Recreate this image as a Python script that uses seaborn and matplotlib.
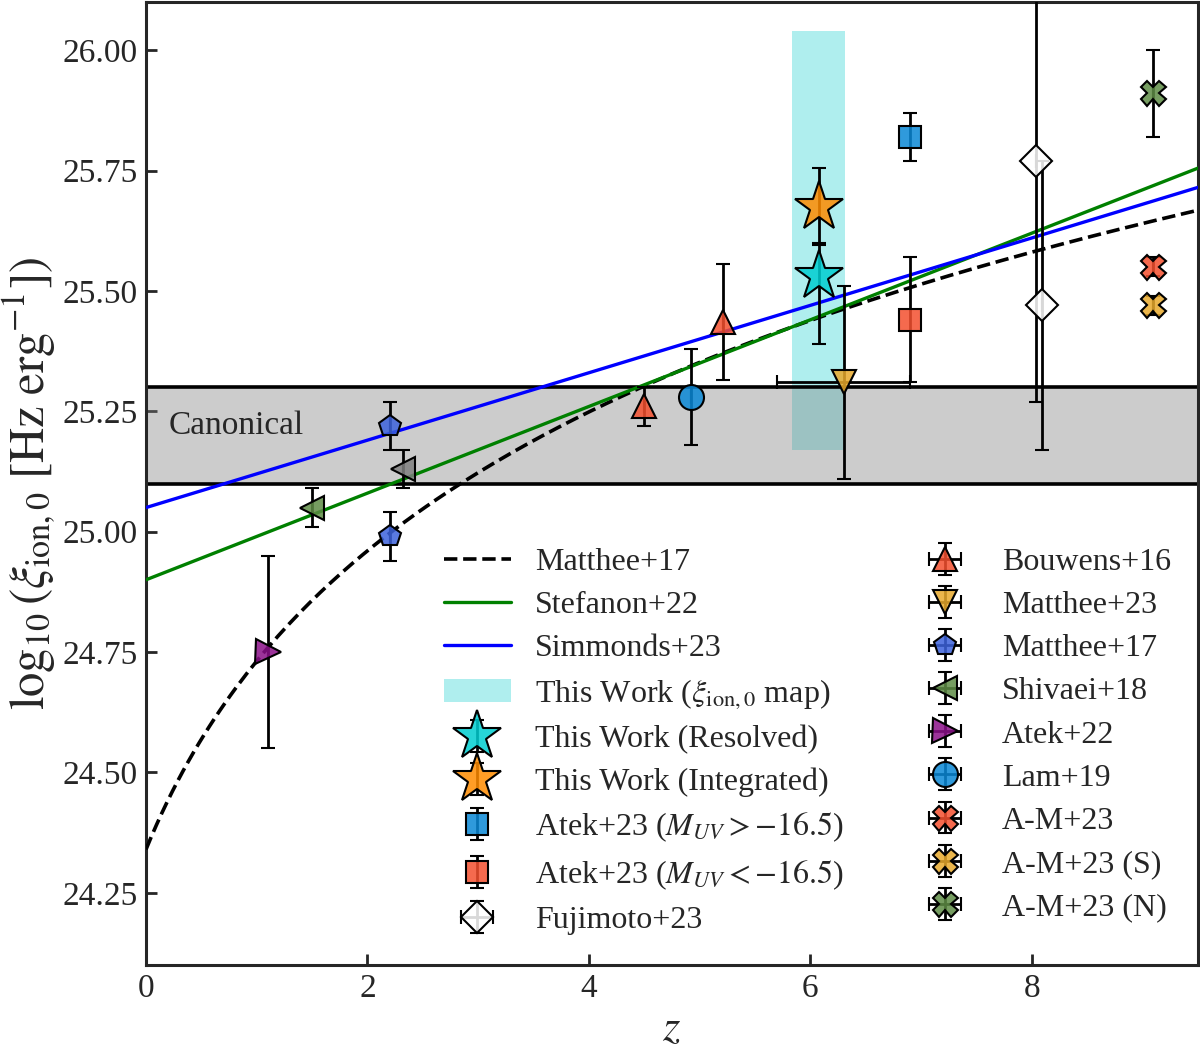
import numpy as np
import pandas as pd
import matplotlib
matplotlib.use("Agg")
import matplotlib.pyplot as plt
import seaborn as sns

# --- relations (coefficients) ---
z_grid_range = [0.0, 9.5]
matthee17_coef = [24.34, 1.30]      # a + b*log10(1+z)
stefanon22_coef = [24.90, 0.090]    # a + b*z
simmonds23_coef = [25.05, 0.070]    # a + b*z

canonical_band = [25.1, 25.3]
map_z_range = [5.83, 6.31]
map_xi_range = [25.17, 26.04]

# --- data points ---
resolved_z = [6.08]
resolved_xi = [25.53]
resolved_err = [[0.14], [0.07]]

integrated_z = [6.08]
integrated_xi = [25.675]
integrated_err = [0.08]

atek23_faint_z = [6.9]
atek23_faint_xi = [25.82]
atek23_faint_err = [0.05]

atek23_bright_z = [6.9]
atek23_bright_xi = [25.44]
atek23_bright_err = [0.13]

fujimoto_z = [8.04, 8.09]
fujimoto_xi = [25.77, 25.47]
fujimoto_err = [0.50, 0.30]

bouwens_z = [4.50, 5.21]
bouwens_xi = [25.26, 25.435]
bouwens_err = [0.04, 0.12]

matthee23_z = [6.30]
matthee23_xi = [25.31]
matthee23_zerr = [0.60]
matthee23_err = [0.20]

matthee17_z = [2.20, 2.20]
matthee17_xi = [25.22, 24.99]
matthee17_err = [0.05, 0.05]

shivaei_z = [1.50]
shivaei_xi = [25.05]
shivaei_err = [0.04]

shivaei_grey_z = [2.32]
shivaei_grey_xi = [25.13]
shivaei_grey_err = [0.04]

atek22_z = [1.10]
atek22_xi = [24.75]
atek22_err = [0.20]

lam19_z = [4.92]
lam19_xi = [25.28]
lam19_err = [0.10]

am23_z = [9.09]
am23_xi = [25.55]
am23_err = [0.02]

am23s_z = [9.09]
am23s_xi = [25.47]
am23s_err = [0.02]

am23n_z = [9.09]
am23n_xi = [25.91]
am23n_err = [0.09]


def relations():
    z = np.linspace(z_grid_range[0], z_grid_range[1], 200)
    df = pd.DataFrame({
        "z": z,
        "matthee17": matthee17_coef[0] + matthee17_coef[1] * np.log10(1 + z),
        "stefanon22": stefanon22_coef[0] + stefanon22_coef[1] * z,
        "simmonds23": simmonds23_coef[0] + simmonds23_coef[1] * z,
    })
    return df


def point(ax, z, xi, yerr, color, marker, label, ms=17, xerr=None, zorder=5):
    face = matplotlib.colors.to_rgba(color, 0.85)
    ax.errorbar(z, xi, yerr=yerr, xerr=xerr, fmt=marker, ms=ms,
                mfc=face, mec="black", mew=1.5, ecolor="black",
                elinewidth=2.0, capsize=5, capthick=2.0,
                label=label, zorder=zorder)


sns.set_style("ticks")
plt.rcParams["font.family"] = ["Liberation Serif", "DejaVu Serif"]
plt.rcParams["mathtext.fontset"] = "stix"

fig = plt.figure(figsize=(12, 10.48), dpi=100)
ax = fig.add_axes([146 / 1200, 83 / 1048, 1052 / 1200, 963 / 1048])

df = relations()
sns.lineplot(data=df, x="z", y="matthee17", ax=ax, color="black",
             linestyle="--", lw=2.6, label="Matthee+17", zorder=3)
sns.lineplot(data=df, x="z", y="stefanon22", ax=ax, color="green",
             lw=2.4, label="Stefanon+22", zorder=3)
sns.lineplot(data=df, x="z", y="simmonds23", ax=ax, color="blue",
             lw=2.4, label="Simmonds+23", zorder=3)

ax.fill_between(map_z_range, map_xi_range[0], map_xi_range[1],
                color="paleturquoise", lw=0, zorder=1,
                label=r"This Work ($\xi_{\rm ion,0}$ map)")

# canonical band
ax.axhspan(canonical_band[0], canonical_band[1], color="grey", alpha=0.4,
           lw=0, zorder=2)
for yb in canonical_band:
    ax.axhline(yb, color="black", lw=2.6, zorder=2.5)
ax.text(0.2, 25.22, "Canonical", fontsize=24, ha="left", va="center")

point(ax, resolved_z, resolved_xi, resolved_err, "darkturquoise", "*",
      "This Work (Resolved)", ms=37, zorder=7)
point(ax, integrated_z, integrated_xi, integrated_err, "darkorange", "*",
      "This Work (Integrated)", ms=37, zorder=7)
point(ax, atek23_faint_z, atek23_faint_xi, atek23_faint_err, "#0a88d6", "s",
      r"Atek+23 ($M_{UV} > -16.5$)", ms=16)
point(ax, atek23_bright_z, atek23_bright_xi, atek23_bright_err, "#f4502f", "s",
      r"Atek+23 ($M_{UV} < -16.5$)", ms=16)
point(ax, fujimoto_z, fujimoto_xi, fujimoto_err, "white", "D",
      "Fujimoto+23", ms=16, xerr=[0, 0])
point(ax, bouwens_z, bouwens_xi, bouwens_err, "#f4502f", "^",
      "Bouwens+16", xerr=[0, 0])
point(ax, matthee23_z, matthee23_xi, matthee23_err, "#e8a92c", "v",
      "Matthee+23", xerr=matthee23_zerr)
point(ax, matthee17_z, matthee17_xi, matthee17_err, "#3d63dc", "p",
      "Matthee+17", ms=16, xerr=[0, 0])
point(ax, shivaei_z, shivaei_xi, shivaei_err, "#5e8c45", "<",
      "Shivaei+18", xerr=[0])
point(ax, shivaei_grey_z, shivaei_grey_xi, shivaei_grey_err, "grey", "<",
      None, xerr=[0])
point(ax, atek22_z, atek22_xi, atek22_err, "#8b1089", ">",
      "Atek+22", ms=18, xerr=[0])
point(ax, lam19_z, lam19_xi, lam19_err, "#0a88d6", "o",
      "Lam+19", ms=18, xerr=[0])
point(ax, am23_z, am23_xi, am23_err, "#f4502f", "X",
      "A-M+23", ms=18, xerr=[0])
point(ax, am23s_z, am23s_xi, am23s_err, "#e8a92c", "X",
      "A-M+23 (S)", ms=18, xerr=[0])
point(ax, am23n_z, am23n_xi, am23n_err, "#5e8c45", "X",
      "A-M+23 (N)", ms=18, xerr=[0])

ax.set_xlim(0, 9.5)
ax.set_ylim(24.1, 26.1)
ax.set_xticks([0, 2, 4, 6, 8])
ax.set_yticks([24.25, 24.5, 24.75, 25.0, 25.25, 25.5, 25.75, 26.0])
ax.set_yticklabels([f"{v:.2f}" for v in ax.get_yticks()])
ax.tick_params(direction="in", length=8, width=2, labelsize=24, pad=6)
for sp in ax.spines.values():
    sp.set_linewidth(2.2)

ax.set_xlabel(r"$z$", fontsize=32, labelpad=4)
ax.set_ylabel(r"$\log_{10}(\xi_{\rm ion,0}\ [\rm Hz\ erg^{-1}])$",
              fontsize=35)
ax.yaxis.set_label_coords(-0.084, 0.5)

ax.legend(ncol=2, loc="lower right", bbox_to_anchor=(1.002, 0.0015),
          frameon=False, fontsize=23, numpoints=1, handlelength=2.1,
          handletextpad=0.75, columnspacing=2.1, labelspacing=0.43)

fig.savefig("out.png", dpi=100)
